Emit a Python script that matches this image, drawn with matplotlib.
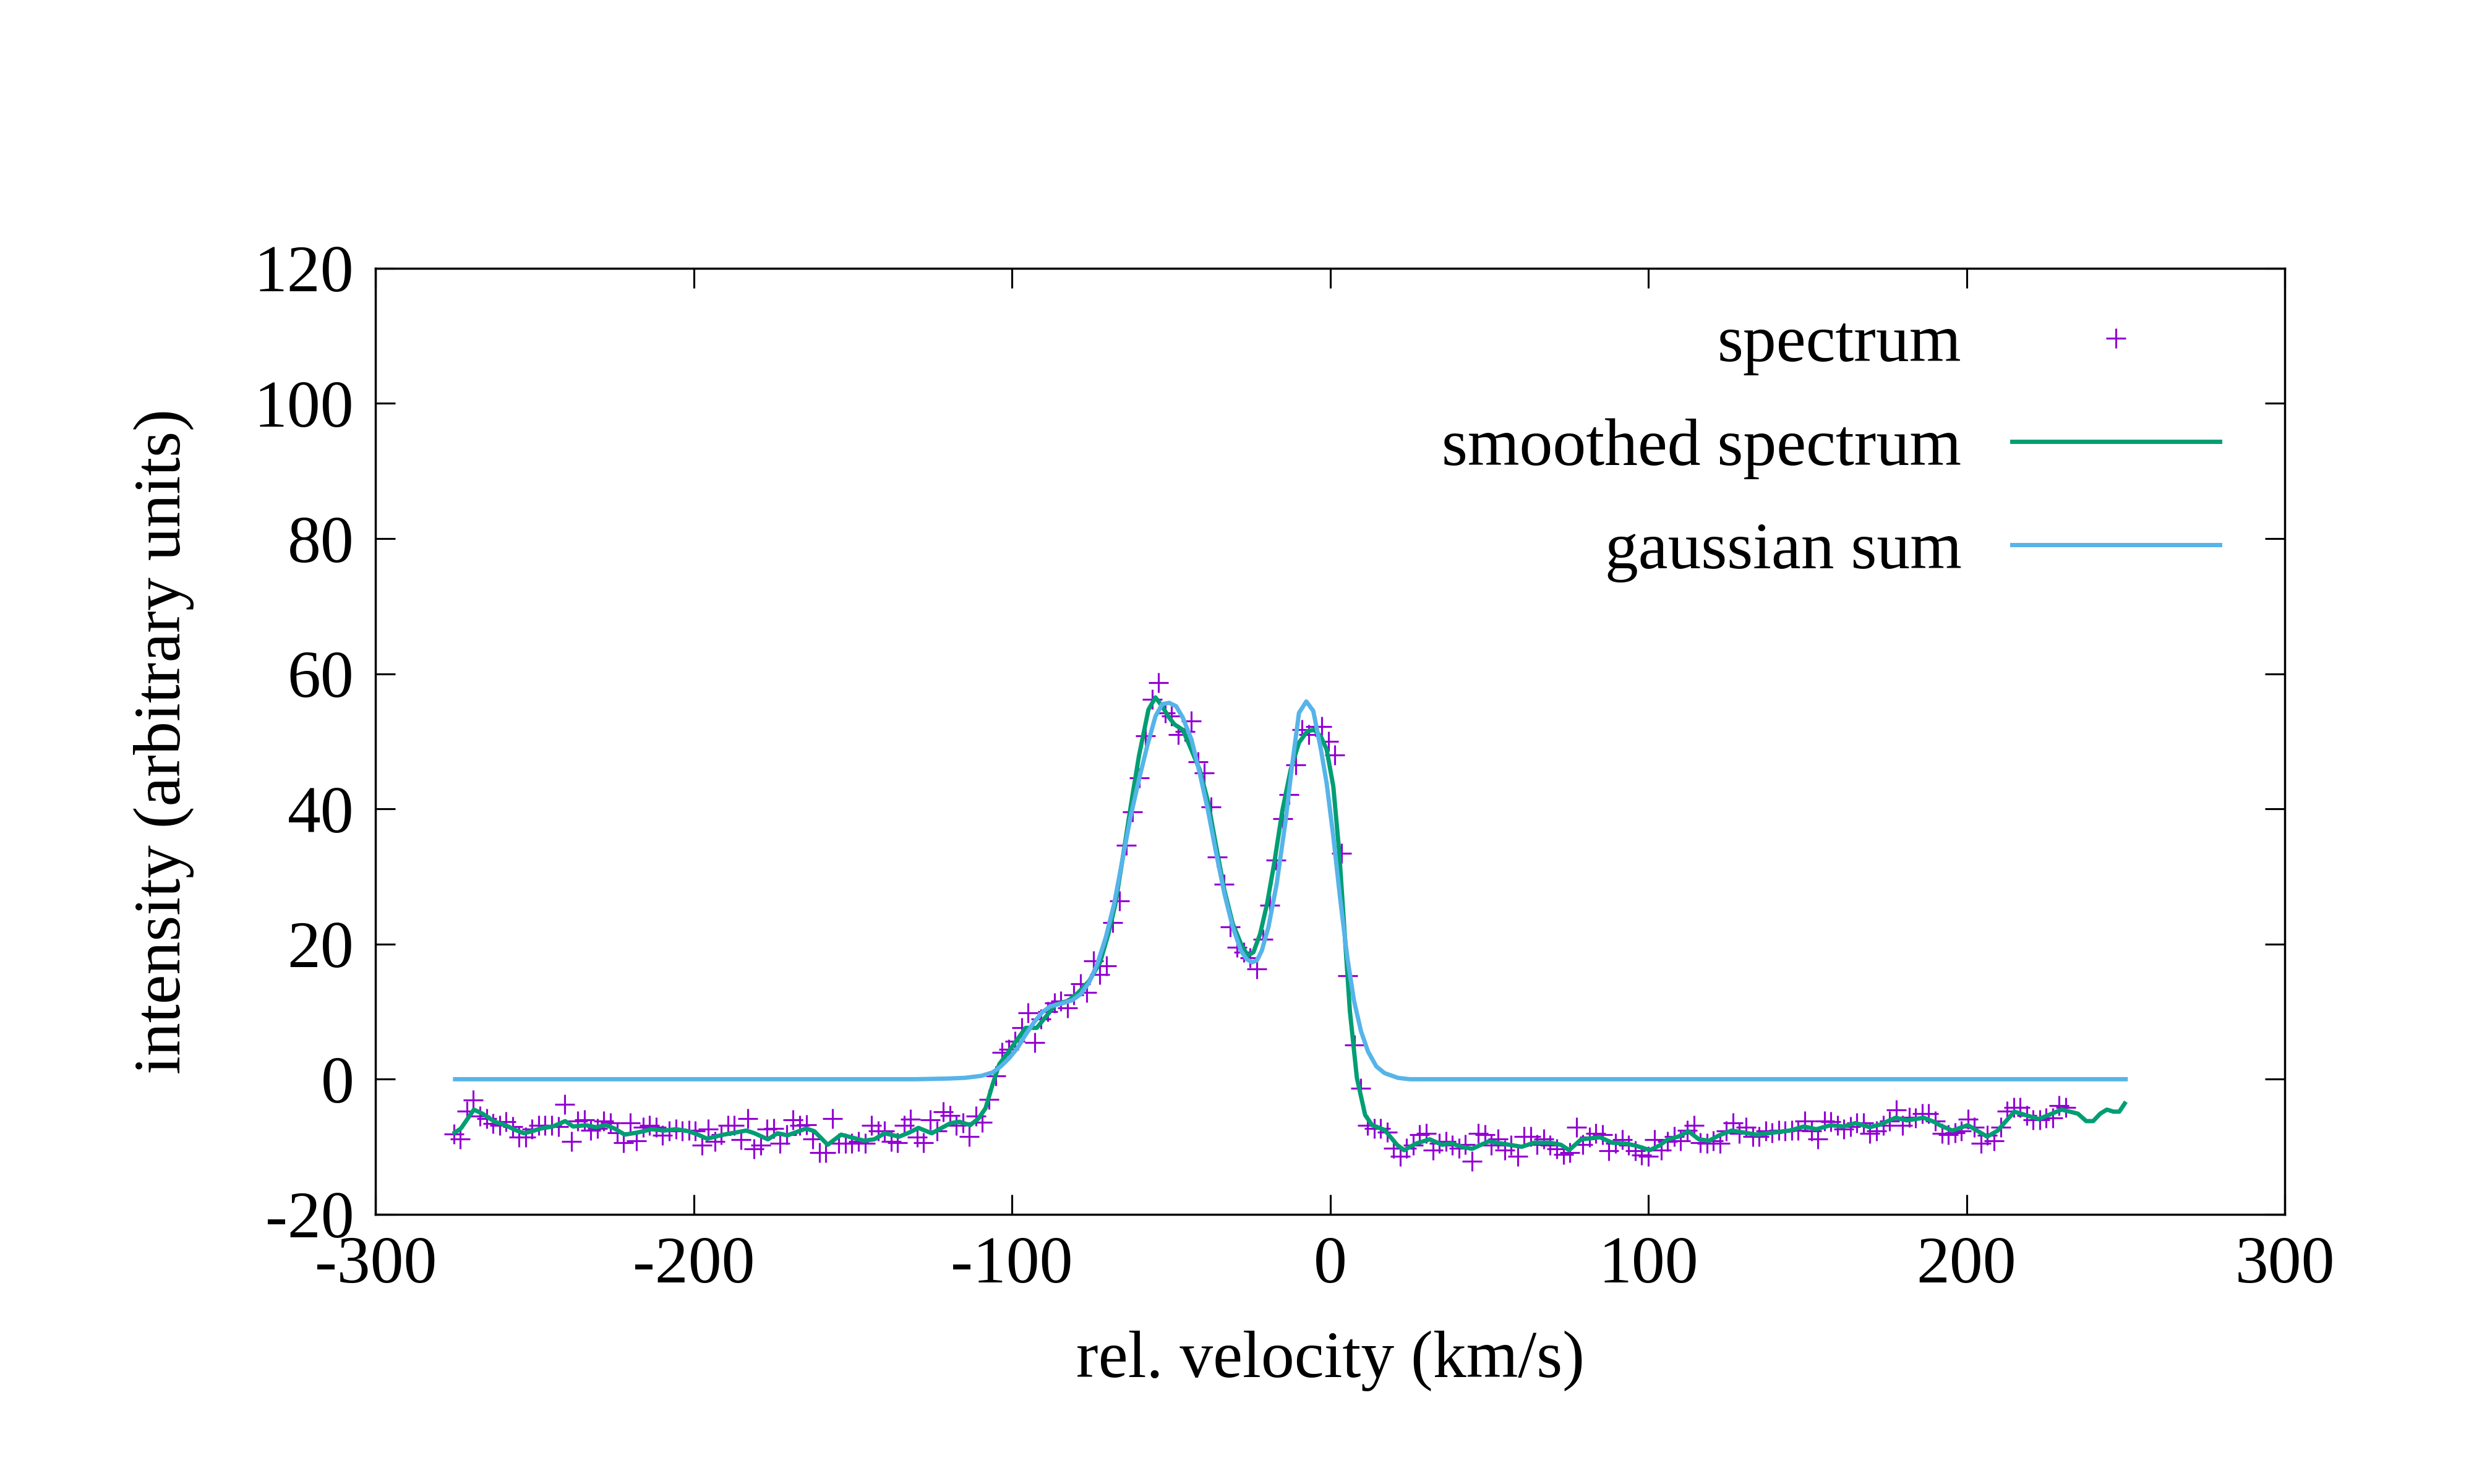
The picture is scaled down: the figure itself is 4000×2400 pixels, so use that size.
import matplotlib
matplotlib.use("Agg")
import matplotlib.pyplot as plt
import numpy as np

plt.rcParams['font.family'] = ['Liberation Serif', 'DejaVu Serif']
plt.rcParams['axes.unicode_minus'] = False

# raw spectrum, one value per channel
V0 = -275.4
DV = 2.051
spec_i = [
    -8.1, -8.8, -4.7, -3.1, -5.5, -5.8, -6.6, -6.8, -6.3, -7.0,
    -8.6, -8.6, -7.4, -6.8, -6.8, -6.8, -7.0, -3.7, -9.2, -6.2,
    -6.0, -7.6, -7.3, -6.2, -6.5, -7.9, -9.4, -6.5, -9.1, -7.1,
    -6.8, -7.1, -8.3, -7.7, -7.4, -7.7, -7.6, -7.7,
    -9.8, -7.4, -9.2, -8.2, -6.8, -6.8, -8.9, -5.8, -10.3, -9.8,
    -7.4, -7.3, -9.5, -8.2, -6.0, -6.8, -6.7, -8.8, -10.9, -10.9,
    -5.8, -9.5, -9.5, -9.5, -9.2, -9.5, -6.8, -7.7, -7.7, -9.2,
    -9.4, -6.8, -5.9, -8.6, -9.4, -6.0, -7.7, -4.8, -5.4, -6.8, -6.5,
    -8.5, -5.5, -6.4, -3.0, 0.5, 4.0, 4.4, 5.6, 7.6, 9.8,
    5.4, 8.9, 10.0, 11.3, 11.6, 10.6, 12.5, 14.1, 12.8, 17.5,
    15.5, 16.8, 23.2, 26.4, 34.6, 39.6, 44.6, 50.8, 56.2, 58.7,
    54.2, 53.7, 51.0, 51.5, 53.0, 47.0, 45.3, 40.3, 32.9, 28.9,
    22.5, 19.5, 18.8, 18.0, 16.3, 20.7, 25.7, 32.4, 38.6, 42.1,
    46.5, 51.7, 51.0, 52.2, 52.2, 50.0, 48.0, 33.4, 15.3, 5.1,
    -1.3, -6.8, -7.3, -7.3, -7.8, -10.2,
    -11.4, -10.2, -9.8, -8.2, -8.0, -10.5, -9.5, -9.2, -9.8, -10.2,
    -9.7, -12.1, -8.0, -8.2, -9.8, -8.8, -10.5, -9.8, -11.4, -8.5,
    -8.5, -9.7, -8.8, -9.8, -10.3, -11.1, -10.9, -7.1, -9.7, -8.6,
    -8.0, -8.2, -10.6, -9.5, -8.9, -9.8, -10.6, -11.2, -11.4, -8.9,
    -10.5, -9.2, -8.5, -9.1, -7.6, -6.8, -9.4, -9.5, -9.1, -9.5,
    -7.7, -6.5, -8.0, -7.1, -8.5, -8.5, -7.7, -7.9, -7.6, -7.7,
    -7.6, -7.6, -6.2, -7.7, -8.8, -6.2, -6.3, -6.8, -7.4, -7.0,
    -6.5, -6.5, -8.0, -7.7, -6.8, -6.2, -4.5, -6.8, -5.6, -5.7,
    -5.1, -5.1, -6.2,
    -8.0, -8.2, -7.9, -7.7, -5.9, -7.1, -9.5, -8.3, -9.1, -7.1,
    -4.7, -4.2, -4.2, -5.4, -6.0, -6.0, -5.7, -5.7, -3.9, -4.2,
]
spec_v = V0 + DV * np.arange(len(spec_i))

# smoothed spectrum
smooth_v = [
    -275.1, -273.2, -269.1, -266.4, -262.5, -259.2, -256.6, -253.4, -250.8, -248.2,
    -244.3, -240.4, -237.9, -234.0, -230.7, -227.5, -224.9, -221.7, -217.8, -213.2,
    -209.4, -205.5, -201.6, -198.7, -195.8, -190.6, -183.5, -180.9, -176.7, -173.7,
    -170.5, -164.7, -162.1, -157.9, -153.7, -146.5, -143.3, -140.0, -135.5, -132.3,
    -129.4, -125.2, -119.3, -116.5, -113.1, -110.5, -108.3, -106.1, -104.0, -101.8,
    -98.3, -95.7, -92.2, -89.6, -86.2, -82.3, -79.2, -75.8, -72.3, -69.7,
    -67.5, -65.3, -62.7, -60.1, -57.1, -54.9, -52.8, -50.6, -48.9, -46.3,
    -44.1, -41.0, -38.4, -35.8, -33.2, -30.6, -28.0, -25.9, -24.1, -22.0,
    -19.8, -17.6, -15.0, -12.4, -9.8, -7.2, -5.0, -2.9, -1.1, 1.0,
    2.8, 4.5, 6.2, 8.4, 11.0, 13.2, 17.1, 21.0, 23.2, 27.1,
    31.3, 35.2, 38.1, 41.4, 44.6, 49.8, 53.7, 60.2, 64.1, 69.2,
    72.5, 75.1, 78.9, 84.8, 88.7, 92.6, 95.8, 100.5, 103.5, 106.1,
    109.4, 112.6, 115.9, 119.1, 122.3, 126.2, 130.1, 134.0, 139.2, 144.4,
    148.9, 152.8, 157.3, 161.2, 165.1, 169.6, 172.9, 177.7, 181.3, 186.5,
    189.7, 191.6, 195.5, 200.4, 206.5, 209.8, 215.0, 222.7, 229.9, 235.0,
    237.6, 239.8, 242.0, 244.1, 246.2, 248.0, 249.7,
]
smooth_i = [
    -7.9, -7.3, -4.5, -5.1, -6.3, -6.8, -7.4, -8.0, -7.7, -7.3,
    -7.0, -6.2, -7.0, -6.8, -7.1, -6.8, -7.3, -8.2, -7.9, -7.4,
    -7.6, -7.4, -7.7, -8.2, -8.8, -8.2, -7.6, -8.0, -8.9, -8.0,
    -8.3, -7.3, -7.7, -9.7, -8.2, -9.1, -8.9, -8.0, -8.5, -7.9,
    -7.2, -8.0, -6.5, -6.3, -6.8, -5.8, -4.3, -0.8, 2.2, 3.6,
    5.9, 7.6, 7.6, 9.1, 11.1, 11.6, 12.8, 14.5, 17.3, 21.5,
    25.9, 32.4, 40.3, 47.8, 54.7, 56.5, 55.2, 53.5, 52.5, 51.7,
    49.3, 45.8, 41.1, 34.4, 27.9, 23.0, 20.0, 18.3, 18.8, 21.5,
    26.0, 31.9, 39.8, 45.8, 49.8, 51.5, 51.7, 50.7, 48.8, 43.3,
    33.9, 22.0, 10.1, 0.2, -5.3, -6.8, -7.5, -9.7, -10.5, -9.5,
    -8.9, -9.7, -9.5, -10.0, -10.3, -9.2, -9.5, -10.0, -9.4, -9.4,
    -9.7, -10.5, -8.9, -8.6, -9.4, -9.5, -9.8, -10.5, -9.8, -8.9,
    -8.5, -7.7, -8.9, -9.1, -8.3, -7.6, -7.9, -8.2, -7.9, -7.6,
    -7.0, -7.4, -6.8, -7.0, -6.5, -7.1, -6.7, -5.7, -6.1, -5.7,
    -6.3, -6.8, -7.6, -6.8, -8.5, -7.6, -4.8, -5.9, -4.5, -5.1,
    -6.2, -6.2, -5.1, -4.5, -4.8, -4.8, -3.6,
]

# sum of the fitted gaussians
gauss_v = [
    -275.0, -130.0, -120.0, -114.8, -109.6, -106.1, -103.5, -100.9, -98.3, -95.7,
    -93.1, -90.5, -87.9, -84.4, -81.0, -78.4, -75.8, -73.2, -70.5, -67.9,
    -65.3, -62.7, -60.1, -57.5, -54.9, -52.8, -50.6, -48.4, -46.3, -43.6,
    -41.0, -38.4, -35.8, -33.2, -30.6, -28.0, -26.3, -24.6, -23.0, -21.5,
    -19.4, -16.8, -14.1, -12.0, -9.8, -7.5, -5.3, -2.9, -1.1, 1.0,
    3.2, 5.4, 7.5, 9.7, 11.9, 14.5, 17.1, 21.3, 25.0, 250.0,
]
gauss_i = [
    0.0, 0.0, 0.1, 0.2, 0.5, 1.0, 1.9, 3.1, 4.6, 6.6,
    8.4, 9.9, 10.8, 11.2, 11.7, 12.6, 14.3, 17.0, 21.0, 25.9,
    32.4, 38.9, 44.3, 49.3, 53.7, 55.5, 55.7, 55.2, 53.5, 50.3,
    45.3, 39.8, 33.4, 27.4, 22.5, 19.0, 17.8, 17.3, 17.6, 19.0,
    22.5, 28.9, 37.9, 46.3, 54.2, 55.9, 54.5, 48.8, 43.8, 35.9,
    26.5, 18.0, 11.6, 7.1, 4.1, 1.9, 0.9, 0.2, 0.0, 0.0,
]

FS = 31

fig = plt.figure(figsize=(16, 9.6), dpi=250)
ax = fig.add_axes([0.1518, 0.1817, 0.7717, 0.6375])

ax.plot(spec_v, spec_i, ls='none', marker='+', ms=9.2, mew=0.9,
        color='#9400D3', label='spectrum')
ax.plot(smooth_v, smooth_i, color='#009E73', lw=2.0, label='smoothed spectrum')
ax.plot(gauss_v, gauss_i, color='#56B4E9', lw=2.0, label='gaussian sum')

ax.set_xlim(-300, 300)
ax.set_ylim(-20, 120)
ax.set_xticks(np.arange(-300, 301, 100))
ax.set_yticks(np.arange(-20, 121, 20))
ax.tick_params(direction='in', length=9.2, width=0.9, top=True, right=True,
               labelsize=FS, pad=10)
for s in ax.spines.values():
    s.set_linewidth(1.0)

ax.set_xlabel('rel. velocity (km/s)', fontsize=FS, labelpad=16)
ax.set_ylabel('intensity (arbitrary units)', fontsize=FS, labelpad=28)

ax.legend(loc='upper right', bbox_to_anchor=(0.966, 0.951), frameon=False,
          markerfirst=False, fontsize=FS, handlelength=3.12,
          handletextpad=0.76, labelspacing=0.64, borderpad=0,
          borderaxespad=0)

fig.savefig('out.png', dpi=250)
